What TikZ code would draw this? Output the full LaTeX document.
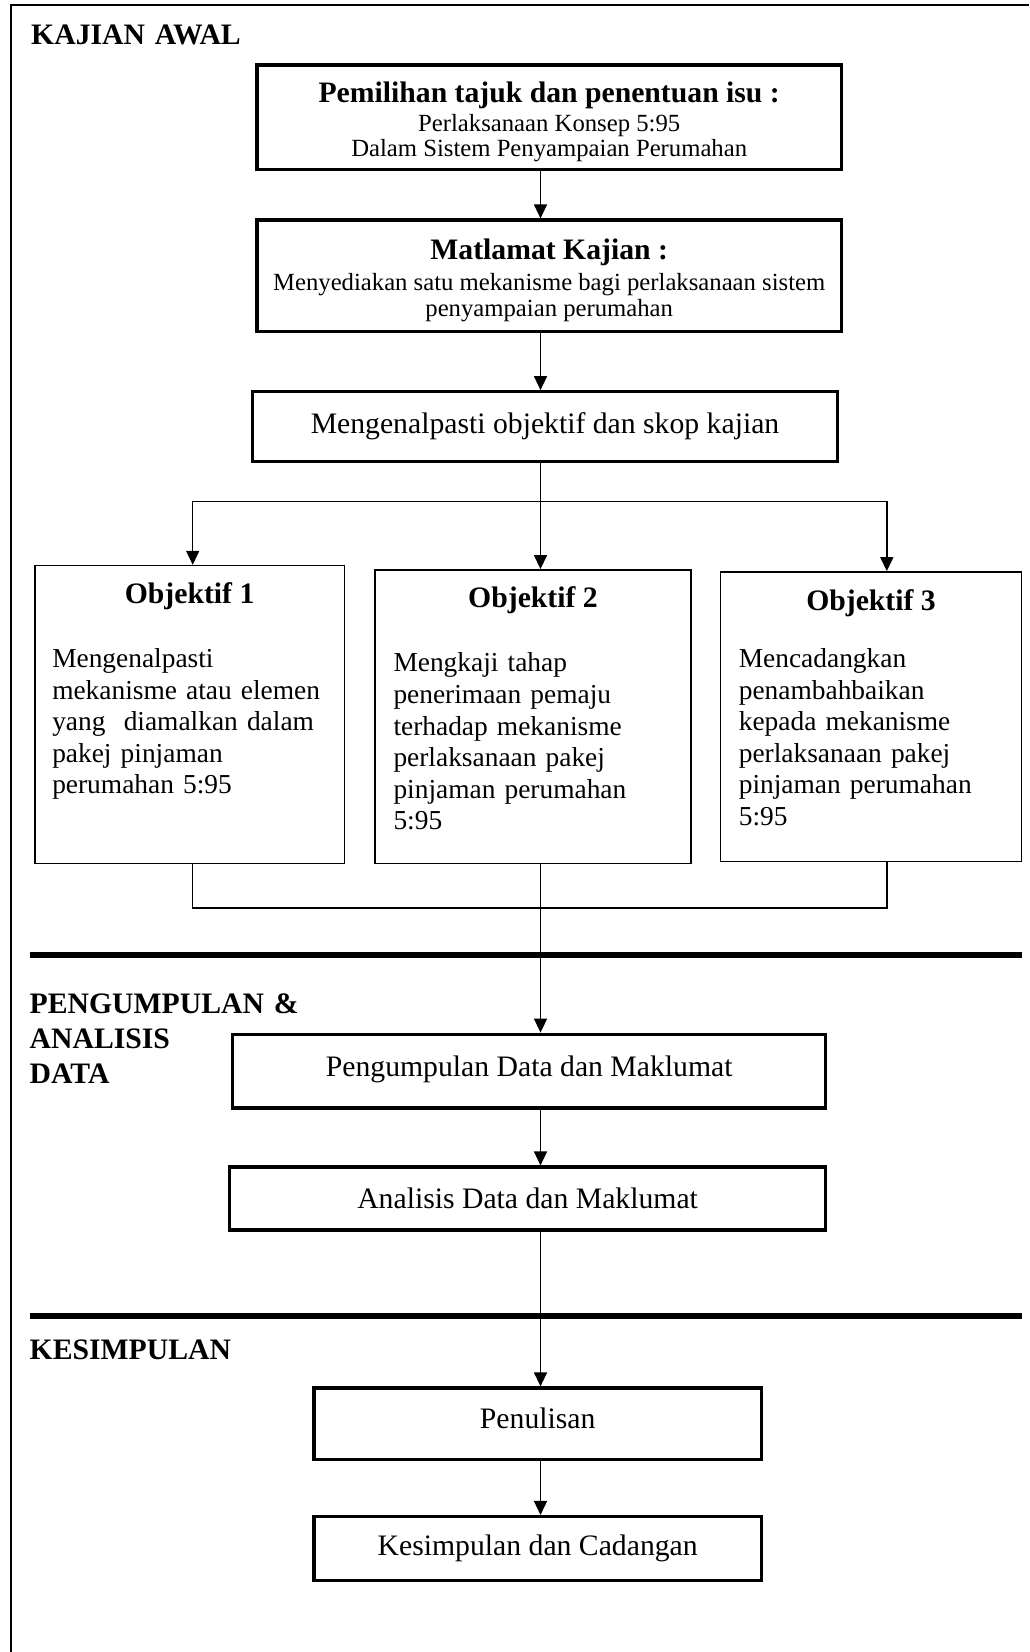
\documentclass[tikz,border=0pt]{standalone}
\usepackage{fontspec}
\setmainfont{Liberation Serif}
\usetikzlibrary{arrows.meta,positioning,calc}
\newcommand{\headfont}{\fontsize{29.7}{35}\selectfont\bfseries}
\newcommand{\boxfont}{\fontsize{29.7}{34}\selectfont}
\newcommand{\objfont}{\fontsize{27.4}{31.6}\selectfont}
\newcommand{\subfont}{\fontsize{24.7}{25.3}\selectfont}
\tikzset{
  flow/head/.style={font=\headfont, anchor=base west, inner sep=0pt, text width=320pt, align=left},
  flow/box/.style={draw, line width=3.2pt, font=\boxfont, align=center, inner sep=0pt},
  flow/obj/.style={draw, line width=1.5pt, inner sep=0pt},
  flow/objtitle/.style={font=\headfont, inner sep=0pt},
  flow/objtext/.style={font=\objfont, anchor=base west, inner sep=0pt, text width=285pt, align=left},
  flow/line/.style={line width=1.5pt},
  flow/arr/.style={line width=1.5pt, -{Triangle[length=14pt,width=13pt]}},
  flow/rule/.style={line width=6pt}
}

\begin{document}
\begin{tikzpicture}[x=1pt,y=-1pt]
\useasboundingbox (0,0) rectangle (1029,1652);

% frame and section rules
\draw[line width=2.2pt] (1029,5) -- (11,5) -- (11,1652);
\draw[flow/rule] (29.5,955.3) -- (1022,955.3);
\draw[flow/rule] (29.5,1315.5) -- (1022,1315.5);

\node[flow/head] (kajian) at (31,44.6) {KAJIAN AWAL};
\node[flow/head] (pengumpulan) at (29.5,1013.4) {PENGUMPULAN \&\\ANALISIS\\DATA};
\node[flow/head] (kesimpulan) at (29.5,1359) {KESIMPULAN};

% main boxes
\node[flow/box, font=\subfont, minimum width=584.5, minimum height=104.5] (tajuk) at (549.2,117.2)
  {\rule{0pt}{30pt}{\headfont Pemilihan tajuk dan penentuan isu :}\\[4pt]Perlaksanaan Konsep 5:95\\Dalam Sistem Penyampaian Perumahan};
\node[flow/box, font=\subfont, minimum width=584.5, minimum height=111.8] (matlamat) at (549.2,275.9)
  {\rule{0pt}{30pt}{\headfont Matlamat Kajian :}\\[5pt]Menyediakan satu mekanisme bagi perlaksanaan sistem\\[1pt]penyampaian perumahan};
\node[flow/box, minimum width=584.5, minimum height=69.5] (skop) at (545,426.5)
  {Mengenalpasti objektif dan skop kajian};

% objectives
\node[flow/obj, minimum width=309.6, minimum height=298] (obj1) at (189.6,714.6) {};
\node[flow/obj, minimum width=315.9, minimum height=293.8] (obj2) at (533,716.7) {};
\node[flow/obj, minimum width=301.2, minimum height=289.6] (obj3) at (871,716.7) {};

\node[flow/objtitle] (obj1t) at ($(obj1.north)+(0,31.6)$) {Objektif 1};
\node[flow/objtitle] (obj2t) at ($(obj2.north)+(0,31.4)$) {Objektif 2};
\node[flow/objtitle] (obj3t) at ($(obj3.north)+(0,31.6)$) {Objektif 3};

\node[flow/objtext] (obj1b) at ($(obj1.north west)+(18,102.6)$)
  {Mengenalpasti\\mekanisme atau elemen\\yang\ \ diamalkan dalam\\pakej pinjaman\\perumahan 5:95};
\node[flow/objtext] (obj2b) at ($(obj2.north west)+(19,102.9)$)
  {Mengkaji tahap\\penerimaan pemaju\\terhadap mekanisme\\perlaksanaan pakej\\pinjaman perumahan\\5:95};
\node[flow/objtext] (obj3b) at ($(obj3.north west)+(19,96.3)$)
  {Mencadangkan\\penambahbaikan\\kepada mekanisme\\perlaksanaan pakej\\pinjaman perumahan\\5:95};

% data and conclusion boxes
\node[flow/box, minimum width=592.9, minimum height=73.8, text depth=10pt] (data) at (529.2,1071.1)
  {Pengumpulan Data dan Maklumat};
\node[flow/box, minimum width=596.1, minimum height=63] (analisis) at (527.6,1198.5)
  {Analisis Data dan Maklumat};
\node[flow/box, minimum width=447.6, minimum height=71.7, text depth=11pt] (penulisan) at (537.7,1423.8)
  {Penulisan};
\node[flow/box, minimum width=447.6, minimum height=64.3] (cadangan) at (537.7,1548.7)
  {Kesimpulan dan Cadangan};

% connectors
\coordinate (split) at (540.5,501.3);
\coordinate (splitL) at (192.7,501.3);
\coordinate (splitR) at (886.8,501.3);
\coordinate (joinL) at (192.7,907.9);
\coordinate (joinR) at (886.8,907.9);

\draw[flow/arr] (tajuk.south -| split) -- (matlamat.north -| split);
\draw[flow/arr] (matlamat.south -| split) -- (skop.north -| split);
\draw[flow/line] (skop.south -| split) -- (split);
\draw[flow/line] (splitL) -- (splitR);
\draw[flow/arr] (splitL) -- (obj1.north -| splitL);
\draw[flow/arr] (split) -- (obj2.north -| split);
\draw[flow/arr] (splitR) -- (obj3.north -| splitR);
\draw[flow/line] (obj1.south -| joinL) -- (joinL) -- (joinR) -- (obj3.south -| joinR);
\draw[flow/arr] (obj2.south -| split) -- (data.north -| split);
\draw[flow/arr] (data.south -| split) -- (analisis.north -| split);
\draw[flow/arr] (analisis.south -| split) -- (penulisan.north -| split);
\draw[flow/arr] (penulisan.south -| split) -- (cadangan.north -| split);
\end{tikzpicture}
\end{document}
